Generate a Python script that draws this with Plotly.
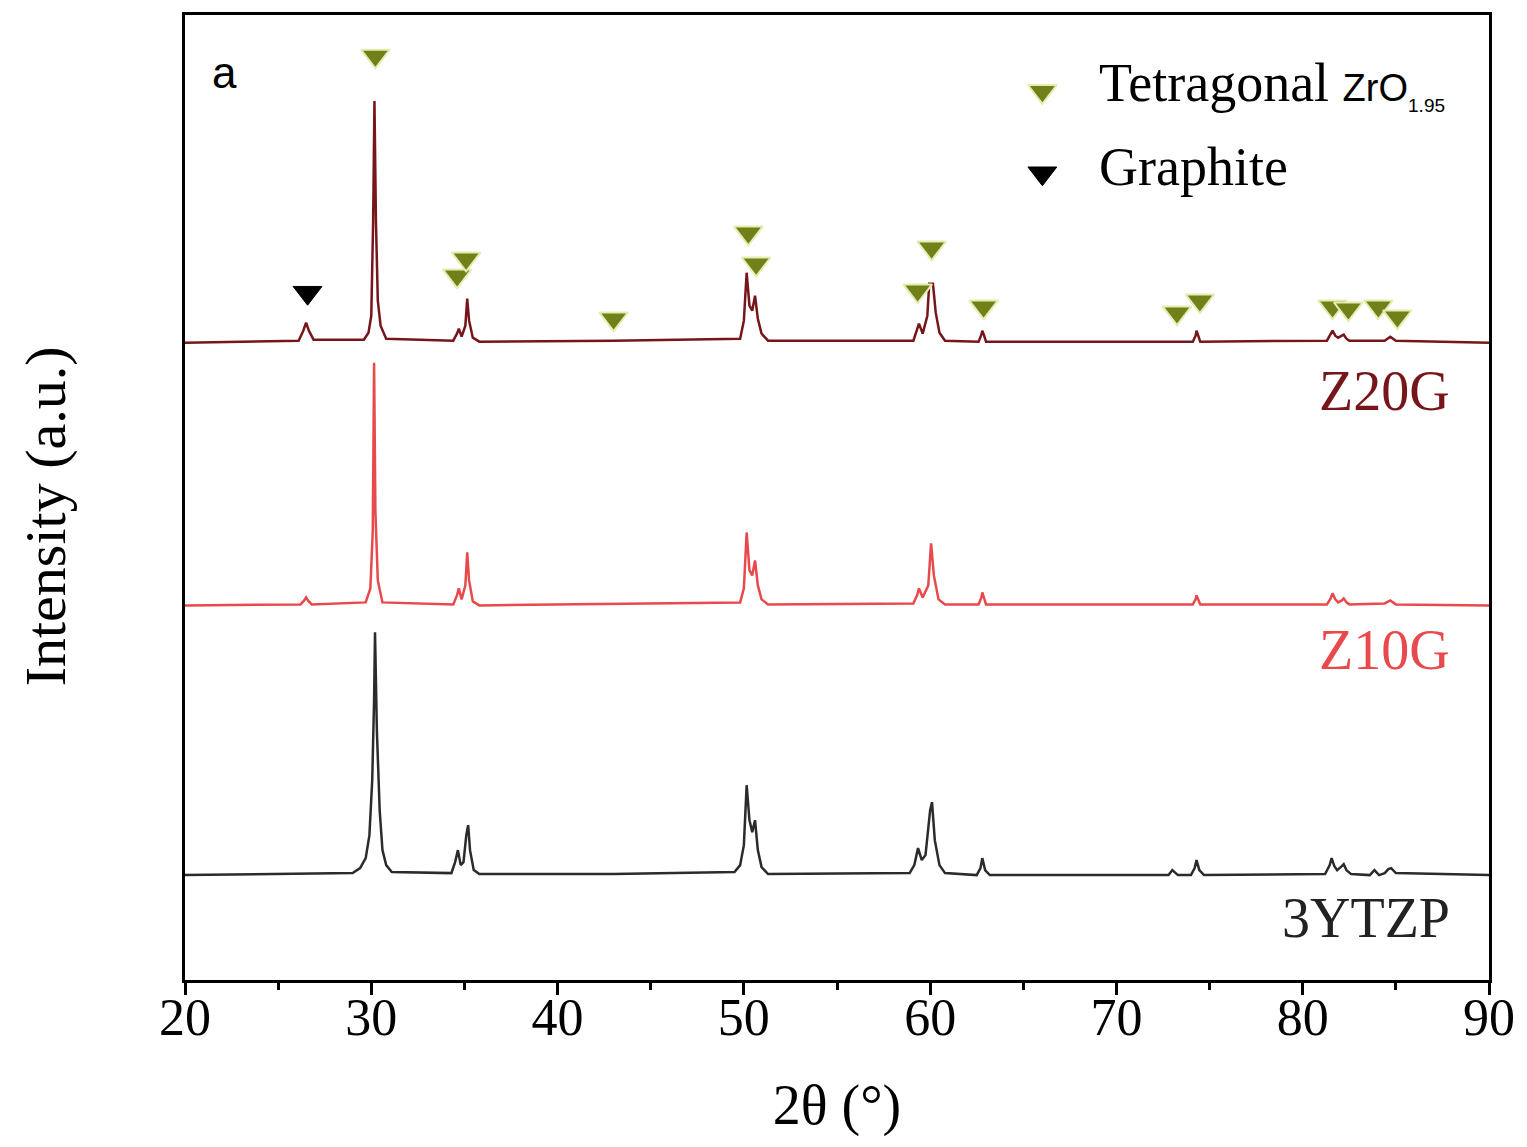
import plotly.graph_objects as go

# ---------------- data (stacked intensities in a.u.) ----------------
x_3y = [20, 25.0, 29.0, 29.4, 29.7, 29.9, 30.05, 30.15, 30.2, 30.3, 30.45, 30.6, 30.8, 31.1,
        34.3, 34.5, 34.65, 34.8, 34.95, 35.1, 35.2, 35.3, 35.5, 35.8, 43.0,
        49.5, 49.8, 50.0, 50.15, 50.3, 50.45, 50.6, 50.75, 50.95, 51.3,
        58.9, 59.15, 59.35, 59.55, 59.75, 60.0, 60.1, 60.25, 60.5, 60.8,
        62.5, 62.7, 62.8, 62.95, 63.2, 72.8, 73.0, 73.3, 74.0, 74.2, 74.3, 74.45, 74.7,
        81.2, 81.45, 81.55, 81.7, 81.85, 82.1, 82.2, 82.35, 82.6,
        83.6, 83.85, 84.1, 84.4, 84.6, 84.75, 85.0, 90]
y_3y = [105, 106, 107, 112, 122, 145, 200, 280, 348, 250, 170, 130, 115, 108,
        107, 118, 130, 115, 118, 145, 155, 130, 110, 106, 106,
        108, 115, 135, 195, 160, 148, 160, 130, 113, 106,
        107, 115, 132, 120, 125, 170, 178, 140, 115, 107,
        105, 112, 122, 110, 105, 105, 110, 105, 105, 112, 120, 110, 105,
        106, 115, 122, 114, 110, 114, 116, 110, 106,
        105, 110, 105, 107, 111, 112, 107, 105]

x_10 = [20, 26.2, 26.4, 26.5, 26.6, 26.8, 29.7, 29.95, 30.08, 30.15, 30.22, 30.35, 30.6,
        34.4, 34.6, 34.7, 34.85, 35.05, 35.15, 35.25, 35.45, 35.8,
        49.8, 50.0, 50.15, 50.3, 50.45, 50.6, 50.75, 50.95, 51.3,
        59.1, 59.3, 59.4, 59.6, 59.9, 60.05, 60.2, 60.45, 60.8,
        62.6, 62.75, 62.8, 62.9, 63.0, 74.1, 74.25, 74.3, 74.4, 74.5,
        81.3, 81.5, 81.6, 81.75, 81.9, 82.1, 82.2, 82.35, 82.5, 84.4, 84.7, 85.0, 90]
y_10 = [375, 376, 380, 383, 380, 376, 378, 392, 450, 618, 470, 400, 378,
        376, 385, 392, 381, 395, 428, 400, 379, 375,
        378, 392, 448, 410, 405, 420, 395, 381, 376,
        377, 385, 392, 383, 395, 437, 405, 381, 376,
        376, 383, 388, 382, 376, 376, 381, 385, 380, 376,
        376, 382, 387, 381, 378, 380, 382, 378, 376, 377, 380, 376, 375]

x_20 = [20, 26.1, 26.35, 26.5, 26.65, 26.9, 29.6, 29.85, 30.0, 30.1, 30.17, 30.25, 30.35, 30.5, 30.8,
        34.4, 34.6, 34.7, 34.85, 35.05, 35.15, 35.25, 35.45, 35.8, 43.0,
        49.8, 50.0, 50.15, 50.3, 50.45, 50.6, 50.75, 50.95, 51.3,
        59.1, 59.3, 59.4, 59.6, 59.85, 59.95, 60.15, 60.3, 60.5, 60.8,
        62.6, 62.75, 62.8, 62.9, 63.0, 74.1, 74.25, 74.3, 74.4, 74.5,
        81.3, 81.5, 81.6, 81.75, 81.9, 82.1, 82.2, 82.35, 82.5, 84.4, 84.7, 85.0, 90]
y_20 = [638, 640, 650, 658, 650, 641, 641, 648, 665, 760, 880, 760, 680, 655, 642,
        640, 647, 652, 644, 655, 682, 660, 643, 639, 640,
        642, 660, 708, 675, 670, 685, 662, 647, 640,
        640, 650, 657, 647, 665, 697, 697, 668, 648, 640,
        639, 646, 650, 645, 639, 639, 645, 650, 644, 639,
        640, 646, 650, 645, 643, 645, 646, 642, 640, 640, 644, 640, 638]

tet_x = [30.22, 34.61, 35.09, 43.01, 50.24, 50.66, 59.33, 60.08, 62.87, 73.25, 74.48, 81.6, 82.45, 84.06, 85.08]
tet_y = [925, 705, 722, 662, 748, 717, 690, 733, 674, 668, 680, 674, 672, 674, 664]
gra_x = [26.58]
gra_y = [688]

series_names = ["Z20G", "Z10G", "3YTZP"]
label_y = [590, 330, 62]
x_ticks = [20, 30, 40, 50, 60, 70, 80, 90]

# ---------------- figure ----------------
SERIF = "Liberation Serif, Times New Roman, serif"
SANS = "Liberation Sans, Arial, sans-serif"
colors = ["#76161a", "#e84a4c", "#2b2b2b"]
TET_FILL = "#72801a"
TET_EDGE = "#e6ebb0"

fig = go.Figure()
for xs, ys, c, n in [(x_20, y_20, colors[0], "Z20G"), (x_10, y_10, colors[1], "Z10G"), (x_3y, y_3y, colors[2], "3YTZP")]:
    fig.add_trace(go.Scatter(x=xs, y=ys, mode="lines", line=dict(color=c, width=2.5),
                             name=n, showlegend=False))

fig.add_trace(go.Scatter(x=tet_x, y=tet_y, mode="markers", showlegend=False,
                         marker=dict(symbol="triangle-down", size=25, color=TET_FILL,
                                     line=dict(color=TET_EDGE, width=2)),
                         name="Tetragonal ZrO1.95"))
fig.add_trace(go.Scatter(x=gra_x, y=gra_y, mode="markers", showlegend=False,
                         marker=dict(symbol="triangle-down", size=25, color="black",
                                     line=dict(color="black", width=1)),
                         name="Graphite"))

# legend drawn on an overlay axis (paper-like 0..1 coordinates)
leg_x = [0.6575]
leg_y_tet = [0.921]
leg_y_gra = [0.836]
fig.add_trace(go.Scatter(x=leg_x, y=leg_y_tet, xaxis="x2", yaxis="y2", mode="markers", showlegend=False,
                         marker=dict(symbol="triangle-down", size=25, color=TET_FILL,
                                     line=dict(color=TET_EDGE, width=2)), hoverinfo="skip"))
fig.add_trace(go.Scatter(x=leg_x, y=leg_y_gra, xaxis="x2", yaxis="y2", mode="markers", showlegend=False,
                         marker=dict(symbol="triangle-down", size=25, color="black",
                                     line=dict(color="black", width=1)), hoverinfo="skip"))
fig.add_annotation(x=0.6995, y=0.928, xref="paper", yref="paper", xanchor="left", yanchor="middle",
                   showarrow=False, font=dict(family=SERIF, size=54, color="black"),
                   text="Tetragonal <span style='font-family:Liberation Sans, Arial, sans-serif;font-size:38px'>ZrO</span>"
                        "<sub><span style='font-family:Liberation Sans, Arial, sans-serif;font-size:19px'>1.95</span></sub>")
fig.add_annotation(x=0.6995, y=0.843, xref="paper", yref="paper", xanchor="left", yanchor="middle",
                   showarrow=False, font=dict(family=SERIF, size=54, color="black"), text="Graphite")

for n, ly, c in zip(series_names, label_y, colors):
    fig.add_annotation(x=88.0, y=ly, xref="x", yref="y", text=n, showarrow=False,
                       xanchor="right", yanchor="middle",
                       font=dict(family=SERIF, size=56, color=c if n != "3YTZP" else "#222222"))

fig.add_annotation(x=0.03, y=0.94, xref="paper", yref="paper", text="a", showarrow=False,
                   xanchor="center", yanchor="middle",
                   font=dict(family=SANS, size=44, color="black"))

# y-axis title as rotated annotation
fig.add_annotation(x=-0.107, y=0.481, xref="paper", yref="paper", text="Intensity (a.u.)",
                   textangle=-90, showarrow=False, xanchor="center", yanchor="middle",
                   font=dict(family=SERIF, size=58, color="black"))

fig.update_layout(
    width=1527, height=1147,
    margin=dict(l=185, r=34, t=14, b=167),
    paper_bgcolor="white", plot_bgcolor="white",
    showlegend=False,
    xaxis=dict(range=[20, 90], tickmode="array", tickvals=x_ticks, ticks="outside",
               ticklen=12, tickwidth=2.5, tickcolor="black",
               showline=True, linewidth=2.5, linecolor="black", mirror=True,
               showgrid=False, zeroline=False, ticklabelstandoff=-22,
               minor=dict(ticks="outside", ticklen=7, tickwidth=2.5, tickcolor="black", dtick=5, tick0=20),
               tickfont=dict(family=SERIF, size=52, color="black"),
               title=dict(text="2θ (°)", font=dict(family=SERIF, size=56, color="black"), standoff=40)),
    yaxis=dict(range=[0, 966], showticklabels=False, ticks="",
               showline=True, linewidth=2.5, linecolor="black", mirror=True,
               showgrid=False, zeroline=False),
    xaxis2=dict(range=[0, 1], overlaying="x", visible=False, fixedrange=True),
    yaxis2=dict(range=[0, 1], overlaying="y", visible=False, fixedrange=True),
)

fig.write_html("out.html")
